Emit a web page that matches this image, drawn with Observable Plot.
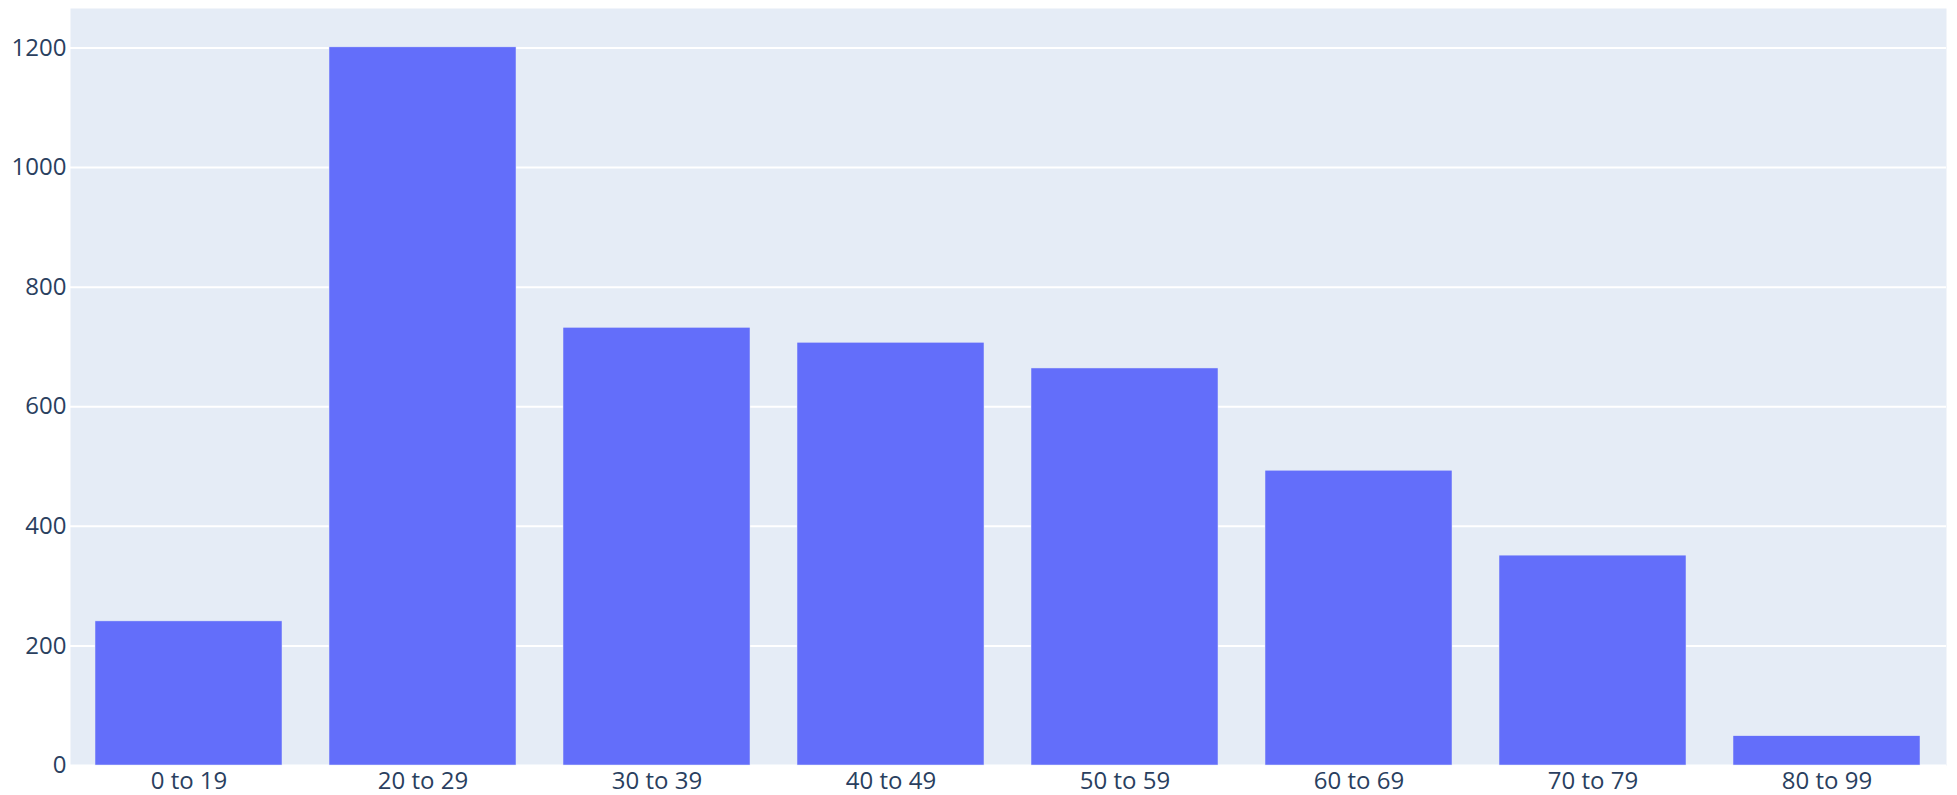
<!DOCTYPE html>
<html>
<head>
<meta charset="utf-8">
<script src="https://cdn.jsdelivr.net/npm/d3@7"></script>
<script src="https://cdn.jsdelivr.net/npm/@observablehq/plot@0.6"></script>
<style>
  html, body { margin: 0; padding: 0; background: #ffffff; }
  #chart svg { display: block; }
</style>
</head>
<body>
<div id="chart"></div>
<script>
const categories = ["0 to 19", "20 to 29", "30 to 39", "40 to 49", "50 to 59", "60 to 69", "70 to 79", "80 to 99"];
const counts = [241, 1201, 732, 707, 664, 493, 351, 49];
const yTicks = [0, 200, 400, 600, 800, 1000, 1200];

const data = categories.map((c, i) => ({category: c, count: counts[i]}));

const chart = Plot.plot({
  width: 1957,
  height: 795,
  marginLeft: 70,
  marginRight: 11,
  marginTop: 8,
  marginBottom: 30,
  style: {
    fontFamily: "'Open Sans', sans-serif",
    fontSize: "24px",
    color: "#2a3f5f",
    background: "#ffffff"
  },
  x: {
    domain: categories,
    paddingInner: 0.2,
    paddingOuter: 0.1,
    label: null,
    tickSize: 0,
    tickPadding: 6
  },
  y: {
    domain: [0, 1266],
    ticks: yTicks,
    tickFormat: d => String(d),
    label: null,
    tickSize: 0,
    tickPadding: 4
  },
  marks: [
    Plot.frame({fill: "#E5ECF6", stroke: null}),
    Plot.gridY(yTicks, {stroke: "#ffffff", strokeOpacity: 1, strokeWidth: 2}),
    Plot.barY(data, {x: "category", y: "count", fill: "#636EFA", stroke: "#E5ECF6", strokeWidth: 0.5})
  ]
});

document.getElementById("chart").appendChild(chart);
</script>
</body>
</html>
